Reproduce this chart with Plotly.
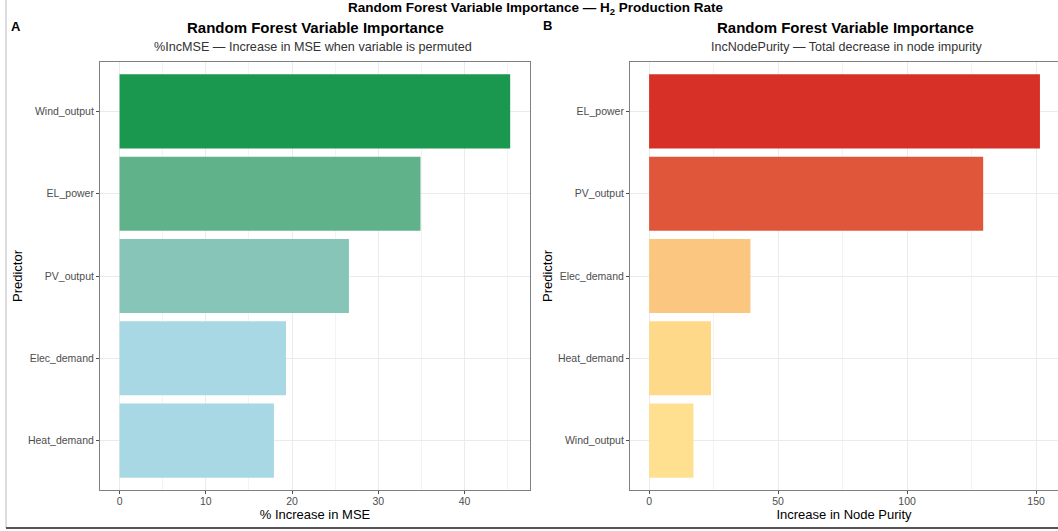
import plotly.graph_objects as go

# Panel A: %IncMSE importance
mse_predictors = ["Wind_output", "EL_power", "PV_output", "Elec_demand", "Heat_demand"]
mse_values = [45.3, 34.9, 26.6, 19.3, 17.9]
mse_colors = ["#1A9850", "#5FB28A", "#86C5B8", "#A8D8E4", "#A8D8E4"]

# Panel B: IncNodePurity importance
purity_predictors = ["EL_power", "PV_output", "Elec_demand", "Heat_demand", "Wind_output"]
purity_values = [151.5, 129.5, 39.3, 24.0, 17.2]
purity_colors = ["#D73027", "#E0563A", "#FBC67F", "#FED98A", "#FEE090"]

W, H = 1058, 531
FONT = "Liberation Sans, Arial, sans-serif"


def px_x(v):
    return v / W


def px_y(v):
    return 1 - v / H


fig = go.Figure()

fig.add_trace(go.Bar(
    x=mse_values, y=mse_predictors, orientation="h",
    marker=dict(color=mse_colors, line=dict(width=0)),
    width=0.9, xaxis="x", yaxis="y", showlegend=False,
))
fig.add_trace(go.Bar(
    x=purity_values, y=purity_predictors, orientation="h",
    marker=dict(color=purity_colors, line=dict(width=0)),
    width=0.9, xaxis="x2", yaxis="y2", showlegend=False,
))

axis_common = dict(
    showline=True, linecolor="#808080", linewidth=1, mirror=True,
    ticks="outside", ticklen=3, tickcolor="#4d4d4d",
    tickfont=dict(family=FONT, size=10.5, color="#4d4d4d"),
    showgrid=True, gridcolor="#EBEBEB", gridwidth=1,
    zeroline=False,
)

title_font = dict(size=13, family=FONT)

fig.update_layout(
    width=W, height=H,
    margin=dict(l=0, r=0, t=0, b=0),
    paper_bgcolor="white", plot_bgcolor="white",
    font=dict(family=FONT, color="black"),
    bargap=0.1,
    xaxis=dict(
        domain=[px_x(100), px_x(530)], anchor="y",
        range=[-2.27, 47.6], tickvals=[0, 10, 20, 30, 40],
        minor=dict(tickvals=[5, 15, 25, 35, 45], showgrid=True, gridcolor="#F3F3F3", ticks=""),
        title=dict(text="% Increase in MSE", font=title_font, standoff=0),
        ticklabelstandoff=-2,
        **axis_common,
    ),
    yaxis=dict(
        domain=[px_y(490), px_y(62)], anchor="x",
        categoryorder="array", categoryarray=mse_predictors[::-1],
        range=[-0.6, 4.6],
        title=dict(text="Predictor", font=title_font, standoff=2),
        **axis_common,
    ),
    xaxis2=dict(
        domain=[px_x(630), 1.0], anchor="y2",
        range=[-7.4, 158.5], tickvals=[0, 50, 100, 150],
        minor=dict(tickvals=[25, 75, 125], showgrid=True, gridcolor="#F3F3F3", ticks=""),
        title=dict(text="Increase in Node Purity", font=title_font, standoff=0),
        ticklabelstandoff=-2,
        **axis_common,
    ),
    yaxis2=dict(
        domain=[px_y(490), px_y(62)], anchor="x2",
        categoryorder="array", categoryarray=purity_predictors[::-1],
        range=[-0.6, 4.6],
        title=dict(text="Predictor", font=title_font, standoff=2),
        **axis_common,
    ),
)

annotations = [
    dict(text="<b>Random Forest Variable Importance — H<sub>2</sub> Production Rate</b>",
         x=px_x(536), y=px_y(9), xanchor="center", yanchor="middle", font=dict(size=13.5)),
    dict(text="<b>A</b>", x=px_x(9), y=px_y(27), xanchor="left", yanchor="middle", font=dict(size=13)),
    dict(text="<b>B</b>", x=px_x(541), y=px_y(26), xanchor="left", yanchor="middle", font=dict(size=13)),
    dict(text="<b>Random Forest Variable Importance</b>", x=px_x(315), y=px_y(28),
         xanchor="center", yanchor="middle", font=dict(size=15)),
    dict(text="%IncMSE — Increase in MSE when variable is permuted", x=px_x(313), y=px_y(47),
         xanchor="center", yanchor="middle", font=dict(size=12.6, color="#333333")),
    dict(text="<b>Random Forest Variable Importance</b>", x=px_x(845), y=px_y(28),
         xanchor="center", yanchor="middle", font=dict(size=15)),
    dict(text="IncNodePurity — Total decrease in node impurity", x=px_x(846), y=px_y(47),
         xanchor="center", yanchor="middle", font=dict(size=12.5, color="#333333")),
]
for a in annotations:
    a.update(xref="paper", yref="paper", showarrow=False)
    a["font"].setdefault("family", FONT)
fig.update_layout(annotations=annotations)

# outer frame: left edge and bottom rule
fig.update_layout(shapes=[
    dict(type="line", xref="paper", yref="paper", x0=px_x(6), x1=px_x(6), y0=px_y(0), y1=px_y(528),
         line=dict(color="#BBBBBB", width=1)),
    dict(type="line", xref="paper", yref="paper", x0=px_x(6), x1=1.0, y0=px_y(528), y1=px_y(528),
         line=dict(color="#555555", width=2)),
])

fig.write_html("out.html")
